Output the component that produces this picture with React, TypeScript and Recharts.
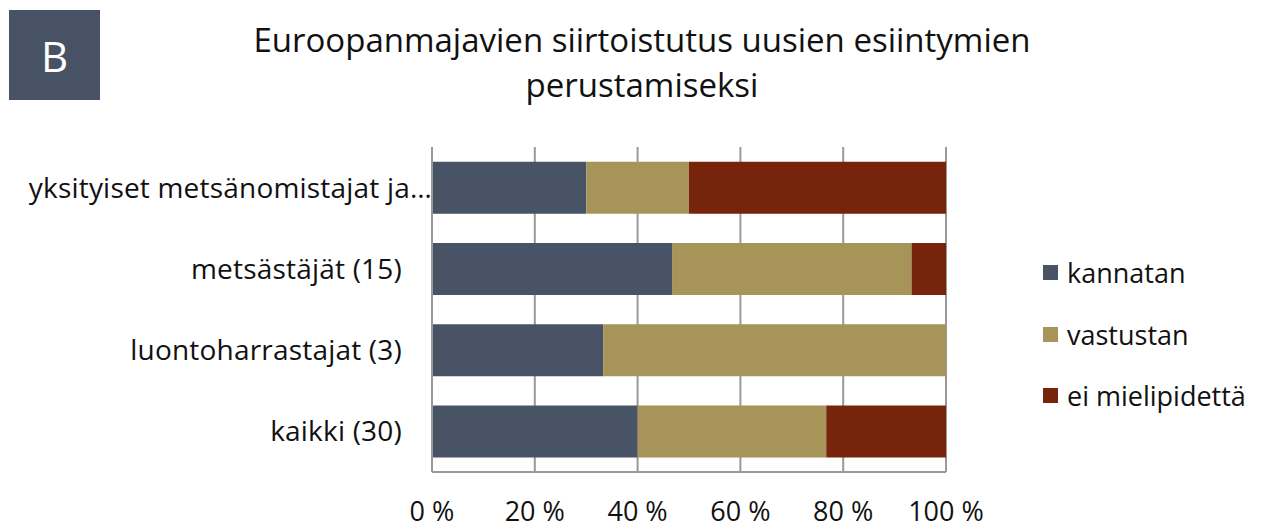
import React from "react";
import { BarChart, Bar, XAxis, YAxis, CartesianGrid } from "recharts";

const categories = [
  "yksityiset metsänomistajat ja…",
  "metsästäjät (15)",
  "luontoharrastajat (3)",
  "kaikki (30)",
];
const kannatan = [30, 46.7, 33.3, 40];
const vastustan = [20, 46.6, 66.7, 36.7];
const eiMielipidetta = [50, 6.7, 0, 23.3];
const xTicks = [0, 20, 40, 60, 80, 100];
const seriesNames = ["kannatan", "vastustan", "ei mielipidettä"];
const colors = ["#485366", "#A69458", "#76240B"];

const data = categories.map((c, i) => ({
  name: c,
  kannatan: kannatan[i],
  vastustan: vastustan[i],
  ei: eiMielipidetta[i],
}));

const FONT = "'Open Sans', Lato, sans-serif";

const YTick = (props: any) => {
  const { x, y, payload } = props;
  const truncated = String(payload.value).endsWith("…");
  return (
    <text
      x={truncated ? x + 8 : x - 22}
      y={y}
      dy={10}
      textAnchor="end"
      fontFamily={FONT}
      fontSize={28}
      letterSpacing={0.2}
      fill="#111"
    >
      {payload.value}
    </text>
  );
};

const XTick = (props: any) => {
  const { x, y, payload } = props;
  return (
    <text x={x} y={y} dy={41} textAnchor="middle" fontFamily={FONT} fontSize={27} fill="#111">
      {payload.value} %
    </text>
  );
};

export default function App() {
  return (
    <div style={{ position: "absolute", left: 0, top: 0, width: 1265, height: 529, background: "#fff" }}>
      <div
        style={{
          position: "absolute",
          left: 9,
          top: 10,
          width: 91,
          height: 90,
          background: "#475264",
          color: "#fff",
          fontFamily: FONT,
          fontSize: 42,
          display: "flex",
          alignItems: "center",
          justifyContent: "center",
        }}
      >
        B
      </div>
      <div
        style={{
          position: "absolute",
          left: 142,
          width: 1000,
          top: 17,
          textAlign: "center",
          fontFamily: FONT,
          fontSize: 33,
          lineHeight: "45px",
          color: "#111",
        }}
      >
        Euroopanmajavien siirtoistutus uusien esiintymien
        <br />
        perustamiseksi
      </div>
      <div style={{ position: "absolute", left: 0, top: 0 }}>
        <BarChart
          width={1265}
          height={529}
          data={data}
          layout="vertical"
          margin={{ top: 147, right: 319, bottom: 0, left: 0 }}
          barCategoryGap="18%"
        >
          <CartesianGrid horizontal={false} stroke="#999" strokeWidth={2} />
          <XAxis
            type="number"
            domain={[0, 100]}
            ticks={xTicks}
            tick={<XTick />}
            tickLine={false}
            axisLine={{ stroke: "#999", strokeWidth: 2 }}
            height={57}
            interval={0}
          />
          <YAxis
            type="category"
            dataKey="name"
            width={432}
            tick={<YTick />}
            tickLine={false}
            axisLine={{ stroke: "#999", strokeWidth: 2 }}
            interval={0}
          />
          <Bar dataKey="kannatan" name="kannatan" stackId="a" fill={colors[0]} isAnimationActive={false} />
          <Bar dataKey="vastustan" name="vastustan" stackId="a" fill={colors[1]} isAnimationActive={false} />
          <Bar dataKey="ei" name="ei mielipidettä" stackId="a" fill={colors[2]} isAnimationActive={false} />
        </BarChart>
      </div>
      <div
        style={{
          position: "absolute",
          left: 1043,
          top: 242,
          width: 222,
          fontFamily: FONT,
          fontSize: 27,
          color: "#111",
        }}
      >
        {seriesNames.map((n, i) => (
          <div key={n} style={{ display: "flex", alignItems: "center", height: 61.5 }}>
            <span
              style={{
                display: "inline-block",
                width: 15,
                height: 15,
                background: colors[i],
                marginRight: 9,
                flexShrink: 0,
              }}
            />
            <span>{n}</span>
          </div>
        ))}
      </div>
    </div>
  );
}
